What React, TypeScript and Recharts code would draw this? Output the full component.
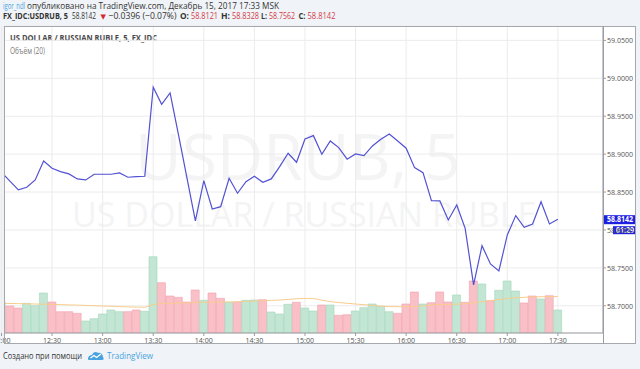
import React from 'react';
import { ComposedChart, Bar, Line, XAxis, YAxis, CartesianGrid, ReferenceLine, Cell } from 'recharts';

const times = [
  '12:00', '12:05', '12:10', '12:15', '12:20', '12:25',
  '12:30', '12:35', '12:40', '12:45', '12:50', '12:55',
  '13:00', '13:05', '13:10', '13:15', '13:20', '13:25',
  '13:30', '13:35', '13:40', '13:45', '13:50', '13:55',
  '14:00', '14:05', '14:10', '14:15', '14:20', '14:25',
  '14:30', '14:35', '14:40', '14:45', '14:50', '14:55',
  '15:00', '15:05', '15:10', '15:15', '15:20', '15:25',
  '15:30', '15:35', '15:40', '15:45', '15:50', '15:55',
  '16:00', '16:05', '16:10', '16:15', '16:20', '16:25',
  '16:30', '16:35', '16:40', '16:45', '16:50', '16:55',
  '17:00', '17:05', '17:10', '17:15', '17:20', '17:25',
  '17:30',
];

const closes = [
  58.8761, 58.8644, 58.8528, 58.8563, 58.8660, 58.8910, 58.8814, 58.8769, 58.8739, 58.8673,
  58.8660, 58.8735, 58.8735, 58.8735, 58.8752, 58.8695, 58.8703, 58.8708, 58.9882, 58.9658,
  58.9807, 58.9253, 58.8686, 58.8119, 58.8650, 58.8277, 58.8307, 58.8682, 58.8484, 58.8637,
  58.8708, 58.8629, 58.8673, 58.8835, 58.9012, 58.8893, 58.9200, 58.9244, 58.8998, 58.9174,
  58.9086, 58.8933, 58.9002, 58.8980, 58.9108, 58.9196, 58.9266, 58.9174, 58.9078, 58.8822,
  58.8756, 58.8386, 58.8383, 58.8132, 58.8330, 58.8022, 58.7275, 58.7793, 58.7552, 58.7459,
  58.7934, 58.8189, 58.8036, 58.8079, 58.8373, 58.8079, 58.8142,
];

const volumes = [
  310, 270, 250, 297, 273, 400, 310, 213, 213, 197,
  120, 143, 190, 230, 213, 213, 230, 217, 763, 503,
  370, 357, 310, 430, 327, 400, 347, 307, 307, 327,
  330, 333, 210, 190, 287, 307, 250, 220, 280, 280,
  177, 183, 220, 253, 290, 267, 213, 197, 290, 410,
  290, 303, 410, 310, 380, 307, 520, 490, 323, 427,
  520, 420, 300, 370, 340, 373, 230,
];

const volumeDirection = [
  'u', 'd', 'd', 'u', 'u', 'u', 'd', 'd', 'd', 'd',
  'u', 'u', 'u', 'u', 'u', 'd', 'd', 'u', 'u', 'd',
  'd', 'd', 'd', 'd', 'u', 'd', 'd', 'u', 'd', 'u',
  'u', 'd', 'u', 'u', 'u', 'd', 'u', 'u', 'd', 'u',
  'd', 'd', 'u', 'u', 'u', 'u', 'u', 'd', 'd', 'd',
  'u', 'd', 'd', 'd', 'u', 'd', 'd', 'u', 'd', 'u',
  'u', 'u', 'd', 'd', 'u', 'd', 'u',
];

const volumeMA = [
  297, 295, 294, 292, 290, 288, 286, 284, 281, 279,
  276, 273, 270, 267, 264, 261, 259, 257, 285, 296,
  298, 300, 302, 306, 308, 309, 309, 310, 313, 317,
  320, 323, 326, 330, 335, 343, 346, 346, 328, 314,
  305, 297, 290, 283, 276, 269, 264, 263, 262, 265,
  270, 280, 284, 286, 288, 294, 303, 312, 323, 335,
  346, 352, 357, 361, 363, 364, 364,
];

const priceTicks = [58.7, 58.75, 58.8, 58.85, 58.9, 58.95, 59.0, 59.05];
const timeTickIndex = [0, 6, 12, 18, 24, 30, 36, 42, 48, 54, 60, 66];

const data = times.map((t, i) => ({
  i,
  t,
  close: closes[i],
  vol: volumes[i],
  ma: volumeMA[i],
  up: volumeDirection[i] === 'u',
}));

const lastClose = closes[closes.length - 1];

const FONT = "'Open Sans', 'DejaVu Sans', sans-serif";
const UP_FILL = '#c2e6d3';
const UP_STROKE = '#a3d7bb';
const DOWN_FILL = '#fac0c8';
const DOWN_STROKE = '#f2a0ad';
const LINE_BLUE = '#5252d4';
const TAG_BLUE = '#1f1fe0';

const PriceTick = (props: any) => {
  const { x, y, payload } = props;
  return (
    <text x={x} y={y + 3} fontSize={8} fill="#555" fontFamily={FONT} textLength={26} lengthAdjust="spacingAndGlyphs">
      {Number(payload.value).toFixed(4)}
    </text>
  );
};

const TimeTick = (props: any) => {
  const { x, y, payload } = props;
  return (
    <text x={x} y={y + 6} fontSize={8} fill="#555" fontFamily={FONT} textAnchor="middle" textLength={18} lengthAdjust="spacingAndGlyphs">
      {times[payload.value]}
    </text>
  );
};

const PriceTag = (props: any) => {
  const vb = props.viewBox || {};
  const right = (vb.x || 0) + (vb.width || 0);
  const y = vb.y || 0;
  return (
    <g>
      <rect x={right} y={y - 4} width={33} height={9} fill={TAG_BLUE} />
      <text x={right + 4} y={y + 3} fontSize={8} fill="#fff" fontWeight="bold" fontFamily={FONT} textLength={26} lengthAdjust="spacingAndGlyphs">
        {lastClose.toFixed(4)}
      </text>
      <rect x={right + 10} y={y + 7} width={23} height={8} fill={TAG_BLUE} />
      <text x={right + 13} y={y + 13.5} fontSize={8} fill="#fff" fontWeight="bold" fontFamily={FONT} textLength={18} lengthAdjust="spacingAndGlyphs">
        01:29
      </text>
    </g>
  );
};

const Logo = () => (
  <g transform="translate(88,350)">
    <path d="M0 9 C0 6 2 5 4 5 C5 2 8 1 10 3 C12 2 15 4 15 7 C16 8 16 10 14 10 L2 10 C1 10 0 10 0 9 Z" fill="#47a3e0" />
    <path d="M2.5 8 L6 5.5 L8.5 7.5 L13 4" stroke="#fff" strokeWidth={1.3} fill="none" />
  </g>
);

export default function App() {
  return (
    <div style={{ position: 'absolute', left: 0, top: 0, width: 640, height: 369, background: '#f0f3f7', overflow: 'hidden' }}>
      <svg width={640} height={369} style={{ position: 'absolute', left: 0, top: 0 }}>
        <text x={3} y={8.5} fontSize={9.5} fontFamily={FONT} fill="#4aa3df" textLength={22} lengthAdjust="spacingAndGlyphs">igor_ndl</text>
        <text x={27} y={8.5} fontSize={9.5} fontFamily={FONT} fill="#333" textLength={252} lengthAdjust="spacingAndGlyphs">опубликовано на TradingView.com, Декабрь 15, 2017 17:33 MSK</text>

        <text x={3} y={19} fontSize={9.5} fontFamily={FONT} fill="#333" fontWeight="bold" textLength={65} lengthAdjust="spacingAndGlyphs">FX_IDC:USDRUB, 5</text>
        <text x={72} y={19} fontSize={9.5} fontFamily={FONT} fill="#333" textLength={24} lengthAdjust="spacingAndGlyphs">58.8142</text>
        <text x={100.5} y={18.5} fontSize={7} fontFamily={FONT} fill="#d8262f">▼</text>
        <text x={108.5} y={19} fontSize={9.5} fontFamily={FONT} fill="#333" textLength={68} lengthAdjust="spacingAndGlyphs">−0.0396 (−0.07%)</text>
        <text x={180} y={19} fontSize={9.5} fontFamily={FONT} fill="#333" fontWeight="bold" textLength={9} lengthAdjust="spacingAndGlyphs">O:</text>
        <text x={191} y={19} fontSize={9.5} fontFamily={FONT} fill="#d23c47" textLength={27} lengthAdjust="spacingAndGlyphs">58.8121</text>
        <text x={221} y={19} fontSize={9.5} fontFamily={FONT} fill="#333" fontWeight="bold" textLength={9} lengthAdjust="spacingAndGlyphs">H:</text>
        <text x={232} y={19} fontSize={9.5} fontFamily={FONT} fill="#d23c47" textLength={27} lengthAdjust="spacingAndGlyphs">58.8328</text>
        <text x={261} y={19} fontSize={9.5} fontFamily={FONT} fill="#333" fontWeight="bold" textLength={6} lengthAdjust="spacingAndGlyphs">L:</text>
        <text x={269} y={19} fontSize={9.5} fontFamily={FONT} fill="#d23c47" textLength={26} lengthAdjust="spacingAndGlyphs">58.7562</text>
        <text x={298.5} y={19} fontSize={9.5} fontFamily={FONT} fill="#333" fontWeight="bold" textLength={7} lengthAdjust="spacingAndGlyphs">C:</text>
        <text x={307.5} y={19} fontSize={9.5} fontFamily={FONT} fill="#d23c47" textLength={28} lengthAdjust="spacingAndGlyphs">58.8142</text>

        <rect x={4} y={26} width={632} height={318} fill="#ffffff" />
        <text x={135} y={180} fontSize={64} fontFamily={FONT} fill="#f4f4f5">USDRUB, 5</text>
        <text x={72} y={227} fontSize={34} fontFamily={FONT} fill="#f4f4f5">US DOLLAR / RUSSIAN RUBLE</text>

        <text x={10} y={40.5} fontSize={9} fontFamily={FONT} fill="#4a4a4a" fontWeight="bold" textLength={147} lengthAdjust="spacingAndGlyphs">US DOLLAR / RUSSIAN RUBLE, 5, FX_IDC</text>
        <text x={10} y={53.5} fontSize={9} fontFamily={FONT} fill="#7a7a7a" textLength={35} lengthAdjust="spacingAndGlyphs">Объём (20)</text>

        <text x={3} y={359} fontSize={9} fontFamily={FONT} fill="#333" textLength={79} lengthAdjust="spacingAndGlyphs">Создано при помощи</text>
        <Logo />
        <text x={107} y={359} fontSize={9.5} fontFamily={FONT} fill="#4aa3df" textLength={46} lengthAdjust="spacingAndGlyphs">TradingView</text>
      </svg>

      <div style={{ position: 'absolute', left: 0, top: 0 }}>
        <ComposedChart width={640} height={345} data={data} margin={{ top: 26, right: 4, bottom: 1, left: 4 }}>
          <CartesianGrid stroke="#ececec" yAxisId="price" />
          <XAxis
            dataKey="i"
            type="number"
            domain={[0.3, 71.35]}
            allowDataOverflow
            ticks={timeTickIndex}
            interval={0}
            height={11}
            tickSize={3}
            tickMargin={1}
            tick={<TimeTick />}
            stroke="#9a9da2"
          />
          <YAxis
            yAxisId="price"
            orientation="right"
            domain={[58.6641, 59.069]}
            allowDataOverflow
            ticks={priceTicks}
            interval={0}
            width={33}
            tickSize={3}
            tickMargin={1}
            tick={<PriceTick />}
            stroke="#9a9da2"
          />
          <YAxis yAxisId="vol" hide domain={[0, 3070]} allowDataOverflow />
          <Bar yAxisId="vol" dataKey="vol" barSize={8} isAnimationActive={false}>
            {data.map((d) => (
              <Cell key={d.i} fill={d.up ? UP_FILL : DOWN_FILL} stroke={d.up ? UP_STROKE : DOWN_STROKE} strokeWidth={0.6} />
            ))}
          </Bar>
          <Line yAxisId="vol" dataKey="ma" stroke="#f8cd8c" strokeWidth={1} dot={false} isAnimationActive={false} />
          <Line yAxisId="price" dataKey="close" stroke={LINE_BLUE} strokeWidth={1.2} dot={false} isAnimationActive={false} />
          <ReferenceLine yAxisId="price" y={lastClose} stroke="none" ifOverflow="visible" label={<PriceTag />} />
        </ComposedChart>
      </div>

      <svg width={640} height={369} style={{ position: 'absolute', left: 0, top: 0, pointerEvents: 'none' }}>
        <rect x={4.5} y={26.5} width={631} height={317} fill="none" stroke="#a5a8ad" />
        <line x1={603.5} y1={26} x2={603.5} y2={344} stroke="#9a9da2" />
      </svg>
    </div>
  );
}
